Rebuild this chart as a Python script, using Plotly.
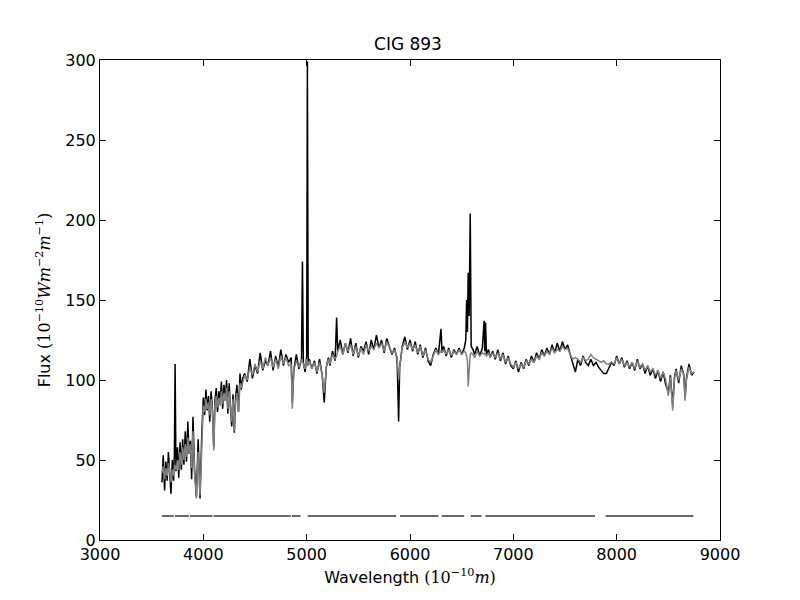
import plotly.graph_objects as go

wave = [3600, 3612, 3625, 3637, 3650, 3662, 3675, 3687, 3700, 3712, 3720, 3727, 3735, 3750, 3762, 3775, 3787, 3800, 3812, 3825, 3837, 3850, 3862, 3875, 3887, 3900, 3915, 3933, 3950, 3968, 3985,
        4000, 4012, 4025, 4037, 4050, 4062, 4075, 4087, 4101, 4112, 4125, 4137, 4150, 4162, 4175, 4187, 4200, 4212, 4225, 4237, 4250, 4262, 4275, 4287, 4300, 4312, 4325, 4340, 4355, 4367, 4380,
        4400, 4425, 4450, 4475, 4500, 4525, 4550, 4575, 4600, 4625, 4650, 4675, 4700, 4725, 4750, 4775, 4800, 4825, 4850, 4861, 4875, 4900, 4925, 4950, 4959, 4968, 4985, 5000, 5007, 5015, 5025,
        5050, 5075, 5100, 5125, 5150, 5170, 5190, 5210, 5225, 5250, 5275, 5290, 5300, 5325, 5350, 5375, 5400, 5425, 5450, 5475, 5500, 5525, 5550, 5575, 5600, 5625, 5650, 5675, 5700, 5725, 5750,
        5775, 5800, 5825, 5850, 5875, 5890, 5900, 5925, 5950, 5975, 6000, 6025, 6050, 6075, 6100, 6125, 6150, 6175, 6200, 6225, 6250, 6275, 6300, 6310, 6325, 6350, 6375, 6400, 6425, 6450, 6475,
        6500, 6525, 6540, 6548, 6556, 6563, 6572, 6583, 6592, 6610, 6625, 6650, 6675, 6700, 6717, 6724, 6731, 6740, 6760, 6775, 6800, 6825, 6850, 6875, 6900, 6925, 6950, 6975, 7000, 7025, 7050,
        7075, 7100, 7125, 7150, 7175, 7200, 7225, 7250, 7275, 7300, 7325, 7350, 7375, 7400, 7425, 7450, 7475, 7500, 7525, 7550, 7575, 7600, 7625, 7650, 7675, 7700, 7725, 7750, 7775, 7800, 7825,
        7850, 7875, 7900, 7925, 7950, 7975, 8000, 8025, 8050, 8075, 8100, 8125, 8150, 8175, 8200, 8225, 8250, 8275, 8300, 8325, 8350, 8375, 8400, 8425, 8450, 8475, 8500, 8520, 8542, 8560, 8575,
        8600, 8625, 8650, 8662, 8675, 8700, 8725, 8750]

flux_obs = [36, 53, 31, 49, 37, 55, 41, 29, 50, 37, 54, 110, 43, 58, 39, 61, 44, 63, 47, 68, 49, 74, 54, 62, 38, 77, 44, 27, 63, 26, 66,
            89, 78, 94, 81, 90, 74, 93, 83, 58, 87, 95, 80, 93, 86, 99, 82, 97, 87, 100, 79, 98, 83, 71, 91, 67, 89, 97, 80, 104, 94, 101,
            104, 99, 113, 101, 109, 104, 117, 106, 112, 109, 118, 106, 115, 108, 119, 109, 116, 111, 114, 86, 106, 116, 107, 113, 174, 111, 105, 115, 299, 109, 113,
            107, 112, 104, 113, 103, 86, 108, 114, 109, 118, 112, 139, 118, 125, 116, 123, 117, 126, 115, 123, 114, 121, 118, 124, 116, 125, 119, 128, 120, 125, 117,
            126, 121, 116, 120, 113, 74, 108, 121, 127, 119, 125, 118, 124, 116, 122, 114, 120, 112, 109, 116, 120, 116, 132, 117, 121, 115, 120, 114, 119, 116, 120,
            116, 120, 125, 150, 130, 167, 140, 204, 121, 119, 116, 121, 115, 120, 137, 118, 136, 116, 119, 114, 118, 113, 119, 112, 117, 110, 115, 109, 107, 112, 105,
            111, 107, 113, 109, 115, 111, 117, 113, 119, 115, 120, 116, 122, 117, 123, 118, 124, 119, 122, 116, 111, 105, 113, 109, 115, 111, 109, 113, 109, 111, 108,
            106, 104, 104, 108, 111, 109, 115, 110, 114, 108, 112, 107, 111, 106, 113, 107, 110, 104, 109, 103, 107, 101, 106, 99, 105, 97, 92, 103, 84, 102, 107,
            98, 109, 103, 89, 101, 110, 103, 105]

flux_mod = [42, 46, 38, 45, 40, 48, 42, 36, 44, 40, 47, 46, 44, 50, 44, 55, 47, 58, 50, 60, 52, 64, 54, 60, 45, 68, 42, 26, 55, 28, 62,
            84, 80, 88, 82, 86, 78, 88, 82, 56, 84, 90, 83, 89, 84, 93, 85, 92, 87, 95, 82, 93, 84, 74, 88, 68, 86, 92, 80, 98, 95, 98,
            103, 100, 108, 103, 110, 105, 112, 107, 114, 109, 114, 108, 113, 107, 115, 110, 114, 109, 110, 82, 106, 112, 108, 113, 111, 110, 107, 113, 110, 109, 112,
            107, 111, 105, 111, 103, 92, 108, 113, 110, 116, 113, 115, 118, 121, 116, 123, 118, 122, 116, 121, 115, 120, 116, 122, 118, 121, 119, 123, 120, 123, 118,
            124, 120, 117, 119, 114, 100, 108, 120, 124, 120, 123, 119, 122, 117, 121, 115, 119, 113, 111, 115, 119, 116, 118, 117, 119, 116, 119, 115, 118, 116, 119,
            116, 118, 117, 114, 112, 96, 110, 116, 117, 116, 114, 118, 115, 117, 116, 117, 116, 115, 117, 114, 117, 114, 117, 113, 116, 111, 114, 110, 108, 111, 107,
            110, 108, 112, 110, 113, 111, 115, 113, 117, 115, 118, 116, 120, 117, 119, 118, 121, 119, 120, 116, 113, 114, 113, 111, 114, 112, 113, 116, 114, 113, 112,
            111, 112, 110, 110, 111, 110, 114, 110, 113, 109, 111, 108, 111, 107, 112, 108, 110, 106, 109, 105, 107, 103, 106, 101, 105, 100, 90, 102, 81, 101, 106,
            100, 107, 103, 87, 100, 108, 104, 105]

seg_start = [3598, 3725, 3870, 4099, 4857, 5010, 5904, 6306, 6589, 6730, 7893]
seg_end = [3713, 3859, 4088, 4845, 4941, 5866, 6275, 6524, 6692, 7790, 8742]
seg_level = 15

title = "CIG 893"
x_label = "Wavelength <span style='font-family:DejaVu Serif'>(10<sup>−10</sup><i>m</i>)</span>"
y_label = "Flux <span style='font-family:DejaVu Serif'>(10<sup>−10</sup><i>Wm</i><sup>−2</sup><i>m</i><sup>−1</sup>)</span>"

seg_x, seg_y = [], []
for a, b in zip(seg_start, seg_end):
    seg_x += [a, b, None]
    seg_y += [seg_level, seg_level, None]

fig = go.Figure()
fig.add_trace(go.Scatter(x=wave, y=flux_obs, mode="lines", line=dict(color="black", width=1.5), showlegend=False))
fig.add_trace(go.Scatter(x=wave, y=flux_mod, mode="lines", line=dict(color="#808080", width=1.5), showlegend=False))
fig.add_trace(go.Scatter(x=seg_x, y=seg_y, mode="lines", line=dict(color="#5f6b70", width=2), showlegend=False))

axis_common = dict(showline=True, mirror="ticks", linecolor="black", linewidth=1,
                   ticks="inside", ticklen=6, tickcolor="black", showgrid=False, zeroline=False,
                   tickfont=dict(size=16, color="black"))
fig.update_layout(
    width=800, height=600,
    margin=dict(l=92, r=88, t=52, b=68),
    paper_bgcolor="white", plot_bgcolor="white",
    font=dict(family="DejaVu Sans", size=16, color="black"),
    title=dict(text=title, x=0.5, xanchor="center", y=1 - 42 / 600, yanchor="bottom", font=dict(size=17)),
    xaxis=dict(range=[3000, 9000], tickvals=[3000, 4000, 5000, 6000, 7000, 8000, 9000],
               title=dict(text=x_label, standoff=8, font=dict(size=16)), **axis_common),
    yaxis=dict(range=[0, 300], tickvals=[0, 50, 100, 150, 200, 250, 300],
               title=dict(text=y_label, standoff=10, font=dict(size=16)), **axis_common),
)
fig.write_html("out.html")
